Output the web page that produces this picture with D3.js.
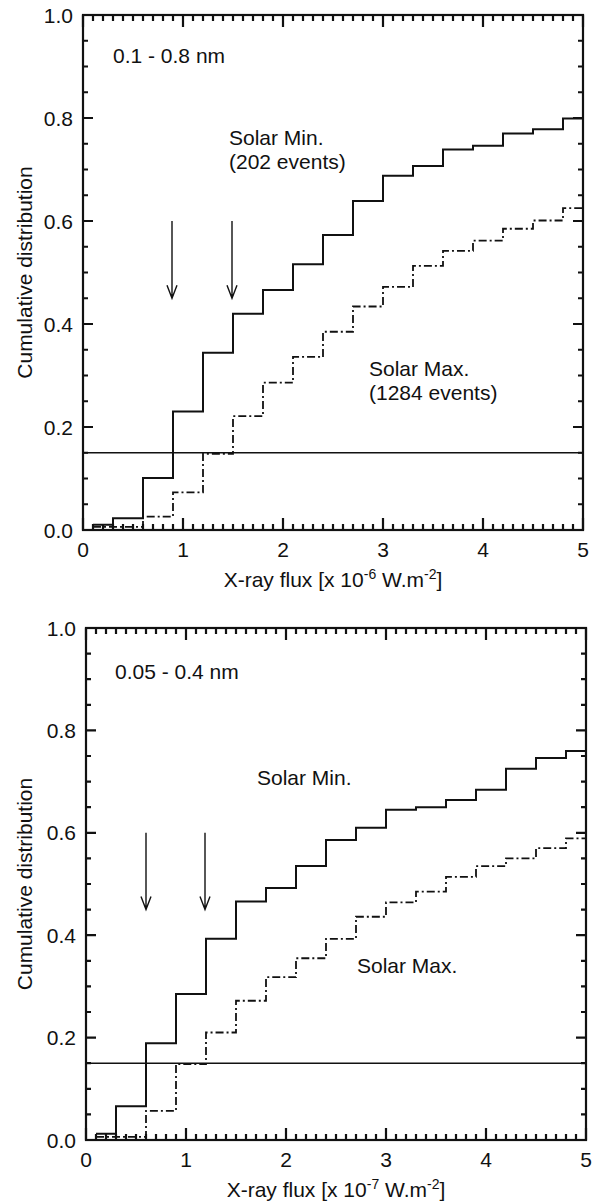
<!DOCTYPE html>
<html>
<head>
<meta charset="utf-8">
<script src="https://cdn.jsdelivr.net/npm/d3@7"></script>
<style>
  body { margin: 0; background: #fff; }
  svg { display: block; font-family: "Liberation Sans", Arial, sans-serif; }
</style>
</head>
<body>
<div id="chart"></div>
<script>
// left edges of the 0.3-wide bins (the last one runs to 5)
const binStarts = [0.1, 0.3, 0.6, 0.9, 1.2, 1.5, 1.8, 2.1, 2.4, 2.7, 3.0, 3.3, 3.6, 3.9, 4.2, 4.5, 4.8];

// 0.1 - 0.8 nm channel
const longMin = [0.010, 0.023, 0.101, 0.230, 0.344, 0.420, 0.466, 0.516, 0.573, 0.639, 0.688, 0.707, 0.739, 0.746, 0.770, 0.778, 0.799];
const longMax = [0.006, 0.006, 0.026, 0.073, 0.148, 0.221, 0.286, 0.336, 0.385, 0.434, 0.472, 0.513, 0.542, 0.562, 0.585, 0.601, 0.625];

// 0.05 - 0.4 nm channel
const shortMin = [0.012, 0.066, 0.189, 0.285, 0.393, 0.466, 0.492, 0.535, 0.586, 0.610, 0.645, 0.650, 0.664, 0.684, 0.725, 0.746, 0.760];
const shortMax = [0.006, 0.006, 0.057, 0.148, 0.210, 0.272, 0.318, 0.355, 0.393, 0.436, 0.464, 0.485, 0.514, 0.535, 0.550, 0.570, 0.589];

const xTicks = [0, 1, 2, 3, 4, 5];
const yTicks = [0, 0.2, 0.4, 0.6, 0.8, 1.0];
const threshold = 0.15;
const longArrows = [0.89, 1.49];
const shortArrows = [0.6, 1.19];

const W = 603, H = 1204;
const ink = "#111";

const svg = d3.select("#chart").append("svg")
  .attr("width", W)
  .attr("height", H);

function panel(opts) {
  let x = d3.scaleLinear().domain([0, 5]).range([0, opts.width]);
  let y = d3.scaleLinear().domain([0, 1]).range([opts.height, 0]);

  const g = svg.append("g").attr("transform", "translate(" + opts.left + "," + opts.top + ")");

  // frame
  g.append("rect")
    .attr("width", opts.width)
    .attr("height", opts.height)
    .attr("fill", "none")
    .attr("stroke", ink)
    .attr("stroke-width", 2.2);

  // inward ticks on all four sides, major + minor
  const minorX = d3.range(0, 50).map(i => i / 10).filter(v => v % 1 !== 0);
  const minorY = d3.range(0, 20).map(i => i / 20).filter(v => Math.round(v * 100) % 20 !== 0);
  const tickPath = (vals, len, horiz) => vals.map(v => horiz
    ? `M${x(v)},${opts.height}v${-len}M${x(v)},0v${len}`
    : `M0,${y(v)}h${len}M${opts.width},${y(v)}h${-len}`).join("");
  g.append("path")
    .attr("d", tickPath(minorX, 6, true) + tickPath(xTicks, 12, true) +
               tickPath(minorY, 5, false) + tickPath(yTicks, 10, false))
    .attr("fill", "none")
    .attr("stroke", ink)
    .attr("stroke-width", 2.2);

  // tick labels
  g.selectAll(".xl").data(xTicks).enter().append("text")
    .attr("x", d => x(d))
    .attr("y", opts.height + 27)
    .attr("text-anchor", "middle")
    .attr("font-size", 21)
    .attr("fill", ink)
    .text(d3.format("d"));
  g.selectAll(".yl").data(yTicks).enter().append("text")
    .attr("x", -10)
    .attr("y", d => y(d))
    .attr("dy", "0.36em")
    .attr("text-anchor", "end")
    .attr("font-size", 21)
    .attr("fill", ink)
    .text(d3.format(".1f"));

  // 15% level
  g.append("line")
    .attr("x1", x(0)).attr("x2", x(5))
    .attr("y1", y(threshold)).attr("y2", y(threshold))
    .attr("stroke", ink)
    .attr("stroke-width", 1.6);

  const step = d3.line()
    .x(d => x(d[0]))
    .y(d => y(d[1]))
    .curve(d3.curveStepAfter);
  const pts = vals => binStarts.map((b, i) => [b, vals[i]]).concat([[5, vals[vals.length - 1]]]);

  g.append("path")
    .attr("d", step(pts(opts.max)))
    .attr("fill", "none")
    .attr("stroke", ink)
    .attr("stroke-width", 1.8)
    .attr("stroke-dasharray", "8,3,2,3");
  g.append("path")
    .attr("d", step(pts(opts.min)))
    .attr("fill", "none")
    .attr("stroke", ink)
    .attr("stroke-width", 2);

  // arrows
  opts.arrows.forEach(a => {
    const ax = x(a), y0 = y(0.6), y1 = y(0.45);
    g.append("path")
      .attr("d", `M${ax},${y0}V${y1}M${ax - 5},${y1 - 13}L${ax},${y1}L${ax + 5},${y1 - 13}`)
      .attr("fill", "none")
      .attr("stroke", ink)
      .attr("stroke-width", 1.4);
  });

  // annotations
  opts.notes.forEach(n => {
    g.append("text")
      .attr("x", x(n[0]))
      .attr("y", y(n[1]))
      .attr("font-size", 21)
      .attr("fill", ink)
      .text(n[2]);
  });

  // axis titles
  g.append("text")
    .attr("transform", "translate(" + (-opts.left + 32) + "," + (opts.height / 2) + ") rotate(-90)")
    .attr("text-anchor", "middle")
    .attr("font-size", 21)
    .attr("fill", ink)
    .text("Cumulative distribution");

  const xt = g.append("text")
    .attr("x", opts.width / 2)
    .attr("y", opts.height + 57)
    .attr("text-anchor", "middle")
    .attr("font-size", 21)
    .attr("fill", ink);
  xt.append("tspan").text("X-ray flux [x 10");
  xt.append("tspan").attr("dy", -8).attr("font-size", 14).text(opts.exp);
  xt.append("tspan").attr("dy", 8).text(" W.m");
  xt.append("tspan").attr("dy", -8).attr("font-size", 14).text("-2");
  xt.append("tspan").attr("dy", 8).text("]");
}

panel({
  left: 83, top: 15, width: 500, height: 515,
  min: longMin, max: longMax, arrows: longArrows, exp: "-6",
  notes: [
    [0.30, 0.907, "0.1 - 0.8 nm"],
    [1.46, 0.748, "Solar Min."],
    [1.46, 0.701, "(202 events)"],
    [2.86, 0.299, "Solar Max."],
    [2.86, 0.252, "(1284 events)"]
  ]
});

panel({
  left: 86, top: 628, width: 500, height: 512,
  min: shortMin, max: shortMax, arrows: shortArrows, exp: "-7",
  notes: [
    [0.29, 0.900, "0.05 - 0.4 nm"],
    [1.71, 0.693, "Solar Min."],
    [2.71, 0.327, "Solar Max."]
  ]
});
</script>
</body>
</html>
